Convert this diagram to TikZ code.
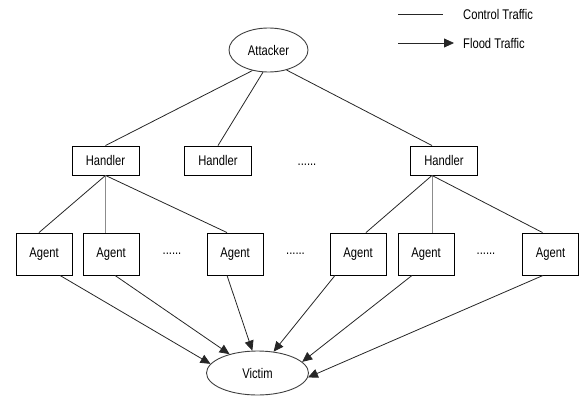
\documentclass[tikz,border=0pt]{standalone}
\usepackage{fontspec}
\setmainfont{Liberation Sans}[FakeStretch=0.8]
\usetikzlibrary{arrows.meta, shapes.geometric}
\tikzset{box/.style={rectangle, draw=black, line width=0.9pt, inner sep=0pt, text=black, font=\fontsize{14}{16}\selectfont}}
\tikzset{handler/.style={box, minimum width=67pt, minimum height=29pt}}
\tikzset{agent/.style={box, minimum width=56pt, minimum height=42pt}}
\tikzset{oval/.style={ellipse, draw=black!75, line width=0.9pt, inner sep=0pt, text=black, font=\fontsize{14}{16}\selectfont}}
\tikzset{dots/.style={inner sep=0pt, text=black, font=\fontsize{14}{16}\selectfont}}
\tikzset{ctrl/.style={-, draw=black!85, line width=0.8pt}}
\tikzset{flood/.style={->, draw=black!85, line width=0.8pt}}

\begin{document}
\begin{tikzpicture}[x=1pt, y=-1pt, >={Triangle[length=10pt,width=9pt]}]
\useasboundingbox (0,0) rectangle (580,396);
\node[oval, minimum width=79pt, minimum height=44pt] (ATT) at (268.5,50) {Attacker};
\node[handler] (H1) at (105.5,160.5) {Handler};
\node[handler] (H2) at (218,160.5) {Handler};
\node[dots] (HD) at (307,165) {......};
\node[handler] (H3) at (444,160.5) {Handler};
\node[agent] (A1) at (44,254) {Agent};
\node[agent] (A2) at (111,254) {Agent};
\node[dots] (AD1) at (172,254) {......};
\node[agent] (A3) at (235,254) {Agent};
\node[dots] (AD2) at (295.5,254) {......};
\node[agent] (A4) at (358,254) {Agent};
\node[agent] (A5) at (426,254) {Agent};
\node[dots] (AD3) at (486,254) {......};
\node[agent] (A6) at (550.5,254) {Agent};
\node[oval, minimum width=102pt, minimum height=44pt] (VIC) at (257.5,373) {Victim};
\coordinate (C0) at (398,14);
\coordinate (C1) at (443,14);
\node[dots, anchor=west] (CT) at (463,14) {Control Traffic};
\coordinate (F0) at (398,43);
\coordinate (F1) at (454,43);
\node[dots, anchor=west] (FT) at (463,43) {Flood Traffic};
\draw[ctrl] (C0) -- (C1);
\draw[flood] (F0) -- (F1);
\draw[ctrl] (ATT.232) -- (H1.north);
\draw[ctrl] (ATT.256) -- (H2.north);
\draw[ctrl] (ATT.312) -- ([xshift=-12pt]H3.north);
\draw[ctrl] (H1.south) -- ([xshift=-5pt]A1.north);
\draw[ctrl, draw=black!45] (H1.south) -- (A2.north -| H1.south);
\draw[ctrl] (H1.south) -- ([xshift=-8pt]A3.north);
\draw[ctrl] ([xshift=-12pt]H3.south) -- ([xshift=8pt]A4.north);
\draw[ctrl, draw=black!45] ([xshift=-12pt]H3.south) -- ([xshift=6pt]A5.north);
\draw[ctrl] ([xshift=-12pt]H3.south) -- ([xshift=-8pt]A6.north);
\draw[flood] ([xshift=16pt]A1.south) -- (VIC.169);
\draw[flood] ([xshift=4pt]A2.south) -- (VIC.146);
\draw[flood] ([xshift=-8pt]A3.south) -- (VIC.103);
\draw[flood] ([xshift=-23pt]A4.south) -- (VIC.53);
\draw[flood] ([xshift=-14pt]A5.south) -- (VIC.14);
\draw[flood] ([xshift=-7.5pt]A6.south) -- (VIC.355);
\end{tikzpicture}
\end{document}
